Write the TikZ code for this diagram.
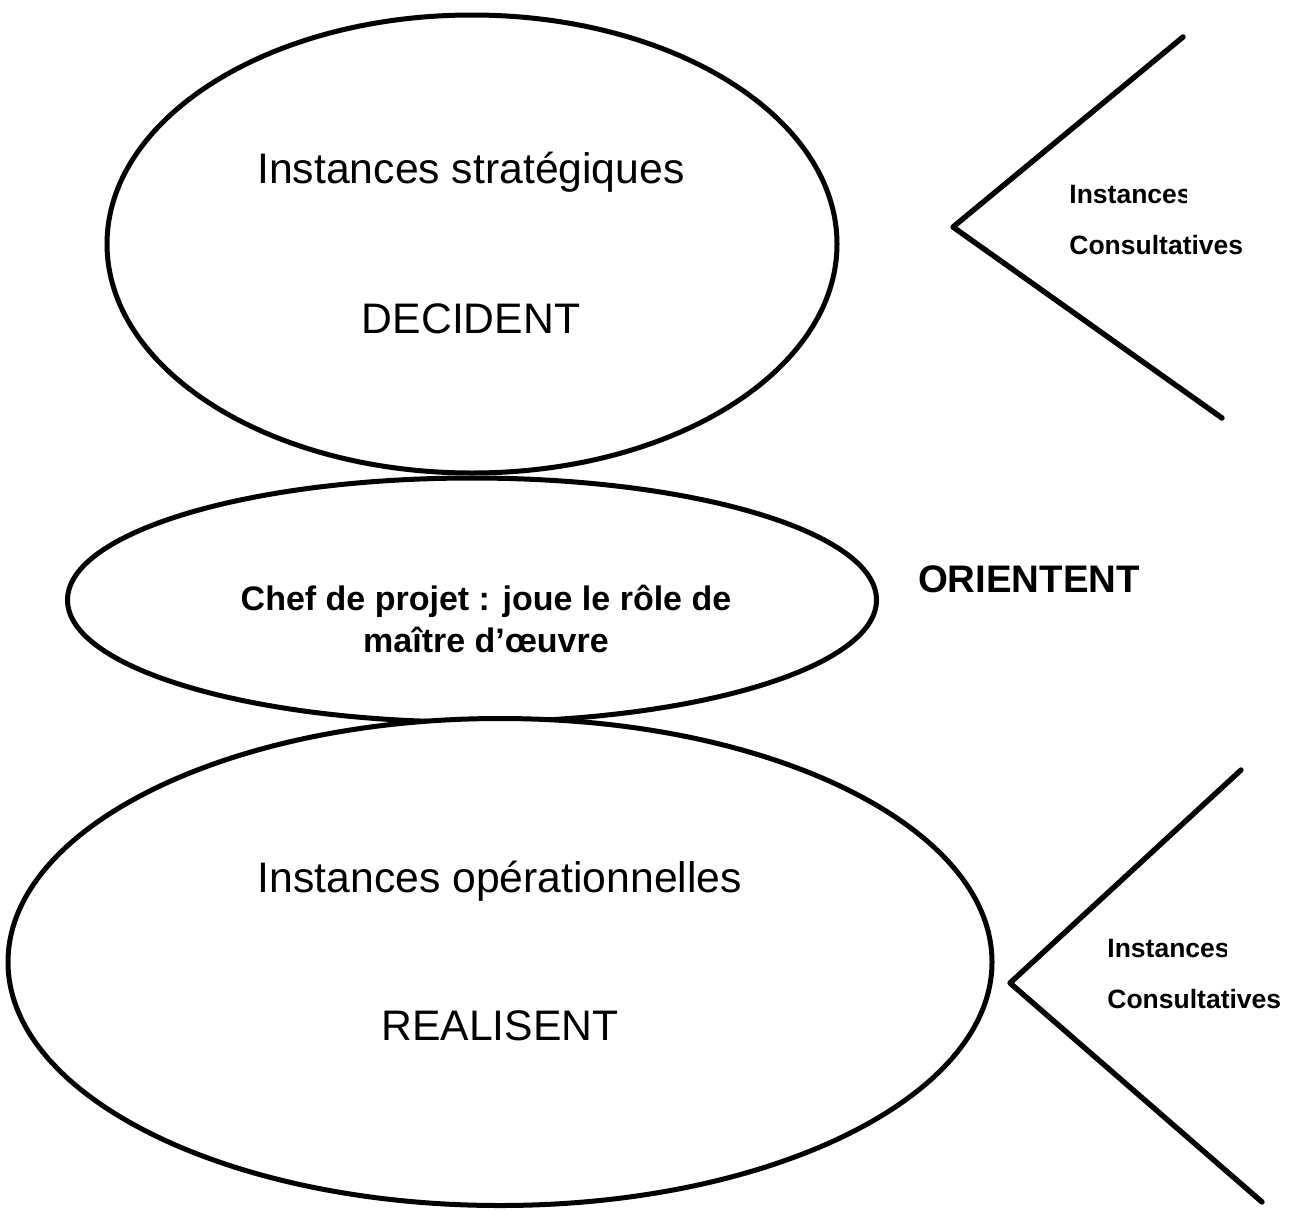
\documentclass[tikz,border=0pt]{standalone}
\usepackage{fontspec}
\setmainfont{Liberation Sans}
\usetikzlibrary{shapes.geometric}
\begin{document}
\begin{tikzpicture}[x=0.5pt,y=-0.5pt,
  oval/.style={draw=black,line width=2.5pt,fill=white,ellipse,inner sep=0pt},
  bigtxt/.style={anchor=base,inner sep=0pt,font=\fontsize{21.35}{25}\selectfont},
  chtxt/.style={anchor=base,inner sep=0pt,font=\fontsize{17}{20}\selectfont\bfseries},
  ortxt/.style={anchor=base,inner sep=0pt,font=\fontsize{19.2}{23}\selectfont\bfseries},
  smtxt/.style={anchor=base west,inner sep=0pt,font=\fontsize{13.25}{16}\selectfont\bfseries},
  chev/.style={draw=black,line width=2.7pt,line join=round,line cap=round}]
\useasboundingbox (0,0) rectangle (1300,1210);
% ellipses
\node[oval,minimum width=365pt,minimum height=229pt] (strat) at (472,244) {};
\node[oval,minimum width=404.5pt,minimum height=122pt] (chef) at (472,600) {};
\node[oval,minimum width=492pt,minimum height=243.5pt] (oper) at (500,962) {};
% texts
\node[bigtxt] (t1) at (471,183) {Instances stratégiques};
\node[bigtxt] (t2) at (471,333) {DECIDENT};
\node[chtxt] (t3) at (486,610) {Chef de projet : joue le rôle de};
\node[chtxt] (t4) at (486,652) {maître d’œuvre};
\node[ortxt] (t5) at (1029,592) {ORIENTENT};
\node[bigtxt] (t6) at (500,892) {Instances opérationnelles};
\node[bigtxt] (t7) at (500,1040) {REALISENT};
% chevron 1
\coordinate (c1a) at (1183,37);
\coordinate (c1v) at (953,227);
\coordinate (c1b) at (1222,418);
\draw[chev] (c1a) -- (c1v) -- (c1b);
\begin{scope}
\clip (1060,170) rectangle (1186,215);
\node[smtxt] (s1) at (1069,203) {Instances};
\end{scope}
\node[smtxt] (s2) at (1069,254) {Consultatives};
% chevron 2
\coordinate (c2a) at (1241,770);
\coordinate (c2v) at (1010,983);
\coordinate (c2b) at (1262,1202);
\draw[chev] (c2a) -- (c2v) -- (c2b);
\begin{scope}
\clip (1100,925) rectangle (1226,970);
\node[smtxt] (s3) at (1107,957) {Instances};
\end{scope}
\node[smtxt] (s4) at (1107,1008) {Consultatives};
\end{tikzpicture}
\end{document}
